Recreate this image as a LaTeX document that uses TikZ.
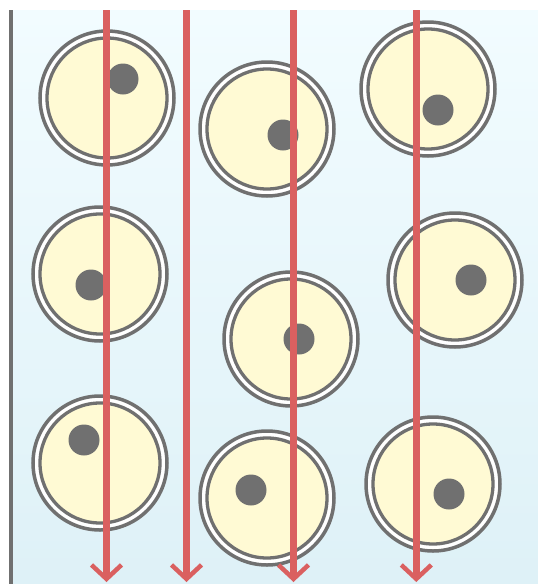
\documentclass[tikz,border=0pt]{standalone}
\usetikzlibrary{arrows.meta}
\definecolor{bgtop}{RGB}{242,252,255}
\definecolor{bgbot}{RGB}{222,241,247}
\definecolor{cellgray}{RGB}{112,112,112}
\definecolor{cellfill}{RGB}{255,250,212}
\definecolor{flowred}{RGB}{218,96,96}
\tikzset{
  membrane/.style={draw=cellgray, line width=3.5pt, fill=white},
  cytoplasm/.style={draw=cellgray, line width=3.3pt, fill=cellfill},
  nucleusdot/.style={fill=cellgray},
  flow/.style={draw=flowred, line width=7pt, -{Straight Barb[length=14pt,width=30pt,line width=4.5pt]}},
  wall/.style={draw=cellgray, line width=3.7pt}
}
\newcommand{\cellat}[5]{%
  \node[circle, membrane, minimum size=134pt, inner sep=0pt] (#1) at (#2,#3) {};
  \node[circle, cytoplasm, minimum size=120pt, inner sep=0pt] (#1in) at (#2,#3) {};
  \node[circle, nucleusdot, minimum size=31pt, inner sep=0pt] (#1nuc) at ($(#2,#3)+(#4,#5)$) {};
}
\usetikzlibrary{calc}
\begin{document}
\begin{tikzpicture}[x=1pt,y=-1pt]
\useasboundingbox (0,0) rectangle (538,584);
\shade[top color=bgtop, bottom color=bgbot] (11,10) rectangle (538,584);
\coordinate (wtop) at (11,10);
\coordinate (wbot) at (11,584);
\draw[wall] (wtop) -- (wbot);
\cellat{c1}{107}{98}{16}{-19}
\cellat{c2}{267}{129}{16}{6}
\cellat{c3}{428}{89}{10}{21}
\cellat{c4}{100}{274}{-9}{11}
\cellat{c5}{291}{339}{8}{0}
\cellat{c6}{455}{280}{16}{0}
\cellat{c7}{100}{463}{-16}{-23}
\cellat{c8}{267}{498}{-16}{-8}
\cellat{c9}{433}{484}{16}{10}
\foreach \i/\x in {1/106.5,2/186.5,3/293.5,4/416.3}{
  \coordinate (a\i top) at (\x,10);
  \coordinate (a\i bot) at (\x,582);
  \draw[flow] (a\i top) -- (a\i bot);
}
\end{tikzpicture}
\end{document}
